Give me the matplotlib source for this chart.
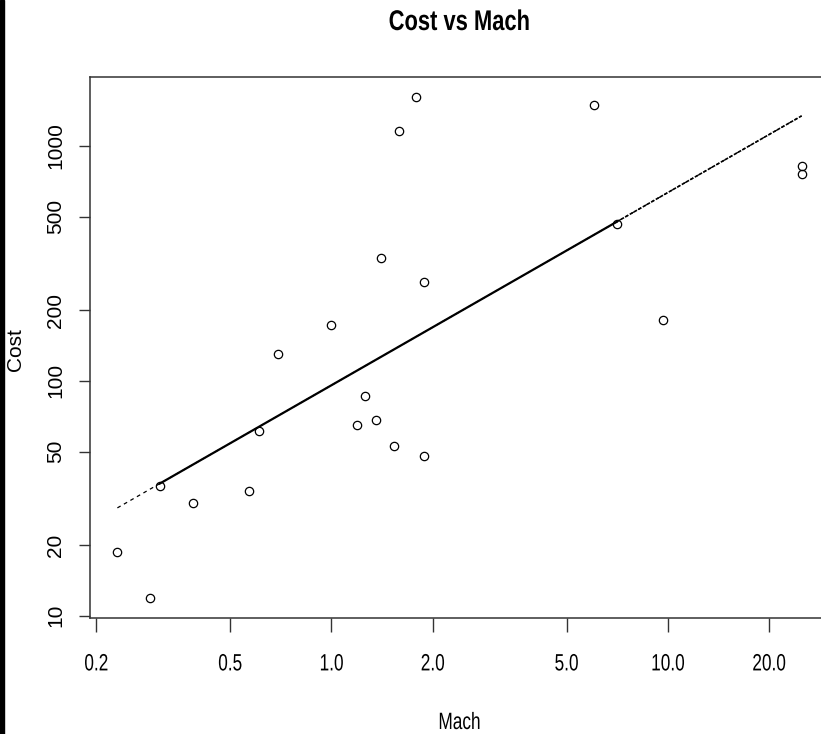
import numpy as np
import matplotlib
matplotlib.use("Agg")
import matplotlib.pyplot as plt
from matplotlib.patches import Rectangle
from matplotlib.patheffects import AbstractPathEffect
from matplotlib.transforms import Affine2D

# Mach number and cost for each aircraft
mach = [0.231, 0.289, 0.309, 0.388, 0.570, 0.610, 0.695, 1.00, 1.195, 1.262, 1.36,
        1.40, 1.53, 1.59, 1.79, 1.89, 1.89, 6.02, 7.05, 9.66, 25.0, 25.0]
cost = [18.7, 11.9, 35.5, 30.3, 34.0, 61.3, 130, 173, 65.0, 86.4, 68.3,
        334, 52.9, 1159, 1617, 264, 48.0, 1494, 466, 182, 822, 760]

x_ticks = [0.2, 0.5, 1.0, 2.0, 5.0, 10.0, 20.0]
y_ticks = [10, 20, 50, 100, 200, 500, 1000]


class Squeeze(AbstractPathEffect):
    """Draw glyphs narrower, keeping each string centred where it was."""

    def __init__(self, sx):
        super().__init__()
        self.sx = sx

    def draw_path(self, renderer, gc, tpath, affine, rgbFace=None):
        ext = tpath.get_extents()
        cx = (ext.x0 + ext.x1) / 2
        squash = Affine2D().translate(-cx, 0).scale(self.sx, 1).translate(cx, 0)
        renderer.draw_path(gc, tpath, squash + affine, rgbFace)


font = ["Liberation Sans", "DejaVu Sans"]
narrow = [Squeeze(0.73)]

W, H = 821, 734
fig = plt.figure(figsize=(W / 100, H / 100), dpi=100)
ax = fig.add_axes([90 / W, 1 - 618 / H, (829 - 90) / W, (618 - 77) / H])

# R-style 4% padding on the log range
lx = np.log10(mach)
ly = np.log10(cost)
px = 0.04 * (lx.max() - lx.min())
py = 0.04 * (ly.max() - ly.min())
ax.set_xscale("log")
ax.set_yscale("log")
ax.set_xlim(10 ** (lx.min() - px), 10 ** (lx.max() + px))
ax.set_ylim(10 ** (ly.min() - py), 10 ** (ly.max() + py))

ax.plot(mach, cost, "o", mfc="none", mec="black", ms=6, mew=0.9)

# log-log least squares line
b, a = np.polyfit(lx, ly, 1)
xs = np.sort(np.array(mach))
fit = lambda v: 10 ** (a + b * np.log10(v))
ax.plot(xs, fit(xs), color="black", lw=0.9, linestyle=(0, (3, 3)))
mid = xs[(xs >= 0.309) & (xs <= 7.05)]
ax.plot(mid, fit(mid), color="black", lw=1.6)
tail = xs[xs >= 7.05]
ax.plot(tail, fit(tail), color="black", lw=1.2, linestyle=(0, (2, 1)))

ax.set_xticks(x_ticks)
ax.set_xticklabels(["%.1f" % v for v in x_ticks], family=font, fontsize=17,
                   path_effects=narrow)
ax.set_yticks(y_ticks)
ax.set_yticklabels([str(v) for v in y_ticks], family=font, fontsize=15,
                   rotation=90, va="center")
ax.minorticks_off()
ax.tick_params(axis="x", length=10, width=1, pad=15.5, color="#333333")
ax.tick_params(axis="y", length=8, width=1, pad=10, color="#333333")
for s in ax.spines.values():
    s.set_linewidth(1.1)
    s.set_color("#333333")

fig.text(459.5 / W, 1 - 30 / H, "Cost vs Mach", family=font, fontsize=20.5,
         fontweight="bold", ha="center", va="baseline",
         path_effects=[Squeeze(0.77)])
fig.text(459.5 / W, 1 - 729 / H, "Mach", family=font, fontsize=17,
         ha="center", va="baseline", path_effects=narrow)
fig.text(16 / W, 1 - 350 / H, "Cost", family=font, fontsize=15,
         rotation=90, ha="center", va="center")

# dark strip along the left edge
fig.patches.append(Rectangle((0, 0), 4 / W, 1, transform=fig.transFigure,
                             color="black", zorder=10))

fig.savefig("out.png", dpi=100)
